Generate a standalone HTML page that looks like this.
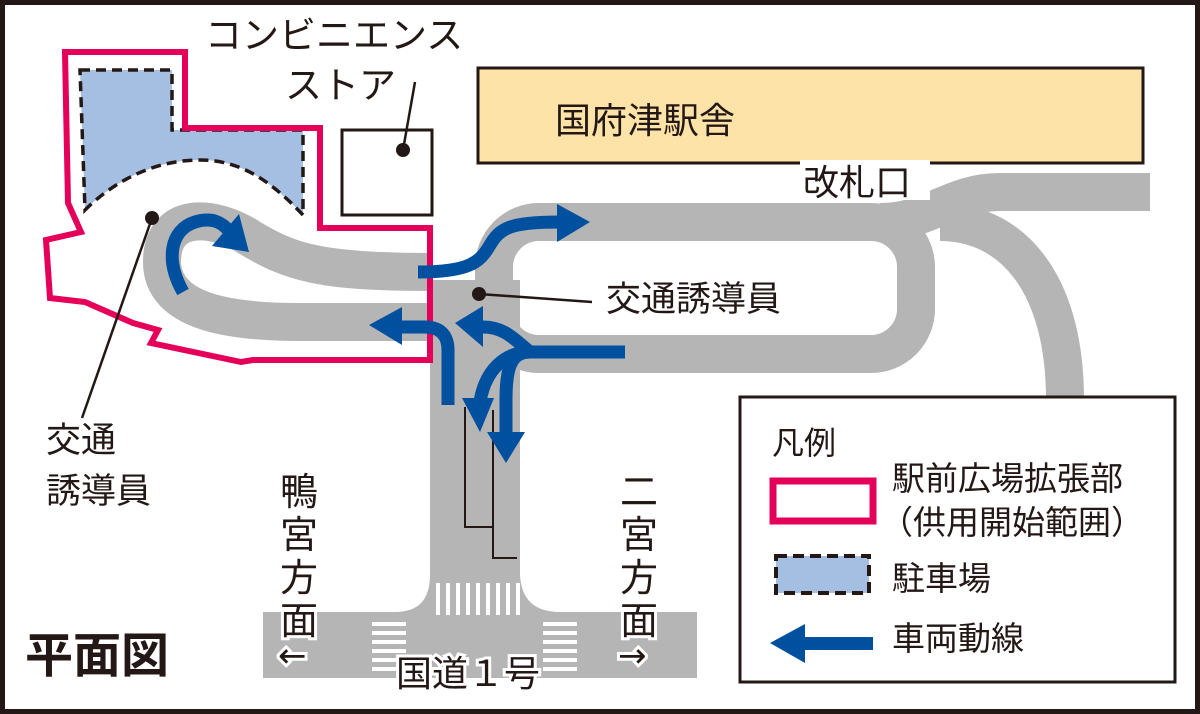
<!DOCTYPE html>
<html><head><meta charset="utf-8"><style>
html,body{margin:0;padding:0;background:#fff}
svg{display:block}
text{font-family:"Liberation Sans","Noto Sans CJK JP",sans-serif;fill:#231815}
</style></head><body>
<svg width="1200" height="714" viewBox="0 0 1200 714" xmlns="http://www.w3.org/2000/svg">
<rect x="0" y="0" width="1200" height="714" fill="#fff"/>
<rect x="2.5" y="2.5" width="1195" height="709" fill="none" stroke="#231815" stroke-width="5"/>

<rect x="478" y="68" width="665" height="95" fill="#fde3a7" stroke="#231815" stroke-width="3"/>
<text x="555" y="133" font-size="36">国府津駅舎</text>

<g fill="none" stroke="#b5b5b5" stroke-width="38">
<path d="M430,272 C320,272 290,262 250,238 C215,215 162,210 162,262 C162,312 230,322 300,322 L430,322"/>
<rect x="494" y="222" width="422" height="132" rx="45"/>
<path d="M880,222 C930,222 950,192 1000,192 L1150,192"/>
<path d="M940,222 C1010,222 1065,280 1065,400"/>
</g>
<path d="M430,280 L520,280 L520,575 Q522,612 560,612 L697,612 L697,678 L263,678 L263,612 L395,612 Q430,612 430,575 Z" fill="#b5b5b5"/>
<g fill="#fff">
<rect x="436" y="583" width="4" height="32"/><rect x="446" y="583" width="4" height="32"/><rect x="456" y="583" width="4" height="32"/><rect x="466" y="583" width="4" height="32"/><rect x="476" y="583" width="4" height="32"/><rect x="486" y="583" width="4" height="32"/><rect x="496" y="583" width="4" height="32"/><rect x="506" y="583" width="4" height="32"/><rect x="516" y="583" width="4" height="32"/>
<rect x="372" y="622" width="34" height="4"/><rect x="372" y="631" width="34" height="4"/><rect x="372" y="640" width="34" height="4"/><rect x="372" y="649" width="34" height="4"/><rect x="372" y="658" width="34" height="4"/><rect x="372" y="667" width="34" height="4"/>
<rect x="543" y="622" width="34" height="4"/><rect x="543" y="631" width="34" height="4"/><rect x="543" y="640" width="34" height="4"/><rect x="543" y="649" width="34" height="4"/><rect x="543" y="658" width="34" height="4"/><rect x="543" y="667" width="34" height="4"/>
</g>
<path d="M465,407 L465,527 L492,527 M493,410 L493,558 L517,558" fill="none" stroke="#231815" stroke-width="2"/>

<path d="M80,70 L172,70 L172,130 L303,130 L303,215 C270,180 240,160 200,160 C150,160 110,185 85,210 Z" fill="#a5bfe3" stroke="#231815" stroke-width="3.5" stroke-dasharray="10,6"/>
<path d="M65,52 L185,52 L185,128 L320,128 L320,228 L430,228 L430,360 L253,360 L241,362 L151,343 L158,330 L133,323 L85,302 L50,298 L46,240 L81,232 L68,203 Z" fill="none" stroke="#e5005a" stroke-width="6" stroke-linejoin="miter"/>

<rect x="342" y="130" width="90" height="85" fill="#fff" stroke="#231815" stroke-width="3"/>
<circle cx="403" cy="150" r="7" fill="#231815"/>
<line x1="403" y1="150" x2="415" y2="82" stroke="#231815" stroke-width="2.5"/>
<text x="205" y="48" font-size="37">コンビニエンス</text>
<text x="285" y="98" font-size="37">ストア</text>

<rect x="800" y="160" width="130" height="40" fill="#fff"/>
<text x="803" y="195" font-size="36">改札口</text>

<g fill="none" stroke="#0050a0" stroke-width="13">
<path d="M183,292 C165,260 170,230 195,222 C212,217 222,222 230,232"/>
<path d="M418,272 C470,272 480,262 490,245 C500,228 510,222 560,222"/>
<path d="M400,327 L425,327 C440,327 448,335 448,350 L448,405"/>
<path d="M483,327 C505,327 515,340 530,352"/>
<path d="M625,352 L530,352 C505,352 485,370 480,402"/>
<path d="M625,352 L530,352 C510,352 506,370 506,400 L506,434"/>
</g>
<g fill="#0050a0">
<polygon points="249,252 239,214 212,246"/>
<polygon points="590,222 557,204 557,242"/>
<polygon points="369,325 402,307 402,345"/>
<polygon points="455,323 483,306 483,347"/>
<polygon points="480,432 462,398 494,398"/>
<polygon points="506,463 487,432 525,432"/>
</g>

<circle cx="152" cy="218" r="7" fill="#231815"/>
<line x1="152" y1="218" x2="82" y2="418" stroke="#231815" stroke-width="2.5"/>
<text x="46" y="452" font-size="35">交通</text>
<text x="46" y="503" font-size="35">誘導員</text>
<circle cx="479" cy="294" r="7" fill="#231815"/>
<line x1="479" y1="294" x2="592" y2="302" stroke="#231815" stroke-width="2.5"/>
<text x="606" y="311" font-size="35">交通誘導員</text>

<g font-size="38" stroke="#fff" stroke-width="6" paint-order="stroke" style="paint-order:stroke">
<text x="280" y="505">鴨</text><text x="280" y="548">宮</text><text x="280" y="591">方</text><text x="280" y="634">面</text>
<text x="278" y="667" style="font-family:'DejaVu Sans',sans-serif;font-size:34px">←</text>
<text x="618" y="667" style="font-family:'DejaVu Sans',sans-serif;font-size:34px">→</text>
<text x="620" y="505">二</text><text x="620" y="548">宮</text><text x="620" y="591">方</text><text x="620" y="634">面</text>
<text x="396" y="686" font-size="36">国道１号</text>
</g>
<text x="25" y="672" font-size="48" font-weight="bold">平面図</text>

<rect x="740" y="397" width="435" height="285" fill="#fff" stroke="#231815" stroke-width="3"/>
<text x="772" y="454" font-size="32">凡例</text>
<rect x="773" y="481" width="100" height="40" fill="#fff" stroke="#e5005a" stroke-width="7"/>
<text x="892" y="490" font-size="33">駅前広場拡張部</text>
<text x="880" y="534" font-size="33">（供用開始範囲）</text>
<rect x="776" y="556" width="93" height="37" fill="#a5bfe3" stroke="#231815" stroke-width="4" stroke-dasharray="11,6"/>
<text x="892" y="590" font-size="33">駐車場</text>
<rect x="800" y="637" width="73" height="13" fill="#0050a0"/>
<polygon points="770,643 805,624 805,663" fill="#0050a0"/>
<text x="892" y="650" font-size="33">車両動線</text>
</svg>
</body></html>
